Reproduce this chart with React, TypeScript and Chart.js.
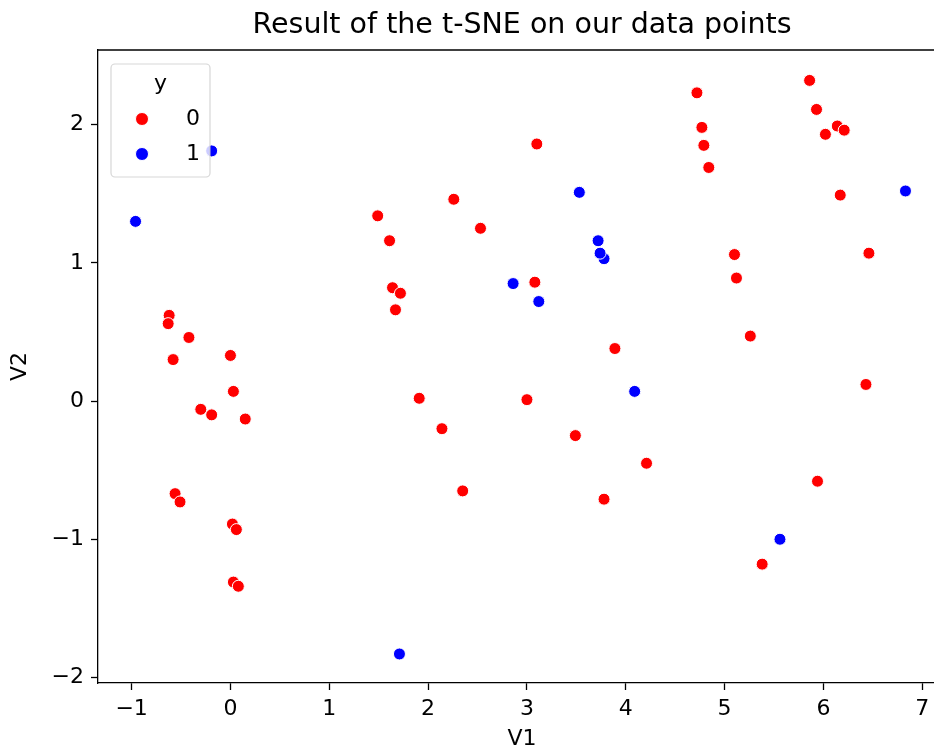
import React, { useEffect, useRef } from "react";
import { Chart, registerables } from "chart.js";

Chart.register(...registerables);

// ---- Data ----
const class0X = [
  -0.62, -0.63, -0.42, -0.58, 0.0, 0.03, -0.3, -0.19, 0.15, -0.56, -0.51, 0.02, 0.06, 0.03, 0.08,
  2.26, 1.49, 2.53, 1.61, 1.64, 1.72, 1.67, 3.08, 3.89, 1.91, 3.0, 2.14,
  5.86, 4.72, 5.93, 4.77, 6.02, 6.14, 6.21, 4.79, 4.84, 6.17, 5.1, 6.46, 5.12, 5.26,
  3.1, 6.43, 3.49, 4.21, 2.35, 3.78, 5.94, 5.38,
];
const class0Y = [
  0.62, 0.56, 0.46, 0.3, 0.33, 0.07, -0.06, -0.1, -0.13, -0.67, -0.73, -0.89, -0.93, -1.31, -1.34,
  1.46, 1.34, 1.25, 1.16, 0.82, 0.78, 0.66, 0.86, 0.38, 0.02, 0.01, -0.2,
  2.32, 2.23, 2.11, 1.98, 1.93, 1.99, 1.96, 1.85, 1.69, 1.49, 1.06, 1.07, 0.89, 0.47,
  1.86, 0.12, -0.25, -0.45, -0.65, -0.71, -0.58, -1.18,
];
const class1X = [3.53, 3.72, 3.78, 3.74, 2.86, 3.12, 4.09, 6.83, 5.56, 1.71, -0.96, -0.19];
const class1Y = [1.51, 1.16, 1.03, 1.07, 0.85, 0.72, 0.07, 1.52, -1.0, -1.83, 1.3, 1.81];

const classLabels = ["0", "1"];
const classColors = ["#ff0000", "#0000ff"];
const legendTitle = "y";
const chartTitle = "Result of the t-SNE on our data points";
const xLabel = "V1";
const yLabel = "V2";

const X_MIN = -1.34;
const X_MAX = 7.24;
const Y_MIN = -2.04;
const Y_MAX = 2.54;

const FONT = "'DejaVu Sans', sans-serif";
const TICK_SIZE = 22;

const fmt = (v: number | string) => {
  const n = Number(v);
  return n < 0 ? "\u2212" + Math.abs(n) : String(n);
};

const framePlugin = {
  id: "frameAndLegend",
  afterDraw(chart: any) {
    const { ctx, chartArea } = chart;
    ctx.save();
    // top spine (right spine lies outside the visible picture)
    ctx.strokeStyle = "#000";
    ctx.lineWidth = 1.3;
    ctx.beginPath();
    ctx.moveTo(chartArea.left, chartArea.top);
    ctx.lineTo(chartArea.right, chartArea.top);
    ctx.stroke();

    // legend box
    const lx = chartArea.left + 13;
    const ly = chartArea.top + 14;
    const lw = 99;
    const lh = 113;
    ctx.beginPath();
    if ((ctx as any).roundRect) (ctx as any).roundRect(lx, ly, lw, lh, 4);
    else ctx.rect(lx, ly, lw, lh);
    ctx.fillStyle = "rgba(255,255,255,0.8)";
    ctx.fill();
    ctx.strokeStyle = "rgba(204,204,204,0.8)";
    ctx.lineWidth = 1.2;
    ctx.stroke();

    ctx.fillStyle = "#000";
    ctx.font = `${TICK_SIZE}px ${FONT}`;
    ctx.textAlign = "center";
    ctx.textBaseline = "middle";
    ctx.fillText(legendTitle, lx + lw / 2, ly + 20);

    const rows = [ly + 55, ly + 90];
    classLabels.forEach((lab, i) => {
      ctx.beginPath();
      ctx.arc(lx + 31, rows[i], 6.5, 0, Math.PI * 2);
      ctx.fillStyle = classColors[i];
      ctx.fill();
      ctx.strokeStyle = "#fff";
      ctx.lineWidth = 1;
      ctx.stroke();
      ctx.fillStyle = "#000";
      ctx.textAlign = "left";
      ctx.fillText(lab, lx + 75, rows[i]);
    });
    ctx.restore();
  },
};

export default function App() {
  const ref = useRef<HTMLCanvasElement | null>(null);

  useEffect(() => {
    if (!ref.current) return;
    const makePts = (xs: number[], ys: number[]) => xs.map((x, i) => ({ x, y: ys[i] }));
    const chart = new Chart(ref.current, {
      type: "scatter",
      data: {
        datasets: [
          {
            label: classLabels[0],
            data: makePts(class0X, class0Y),
            pointBackgroundColor: classColors[0],
            pointBorderColor: "#ffffff",
            pointBorderWidth: 1,
            pointRadius: 6,
          },
          {
            label: classLabels[1],
            data: makePts(class1X, class1Y),
            pointBackgroundColor: classColors[1],
            pointBorderColor: "#ffffff",
            pointBorderWidth: 1,
            pointRadius: 6,
          },
        ],
      },
      options: {
        animation: false,
        responsive: false,
        devicePixelRatio: 1,
        layout: { padding: { left: 0, right: 24, top: 0, bottom: 0 } },
        plugins: {
          legend: { display: false },
          tooltip: { enabled: false },
          title: {
            display: true,
            text: chartTitle,
            fullSize: false,
            color: "#000",
            font: { family: FONT, size: 28.5, weight: "normal", lineHeight: 1.2 },
            padding: { top: 8, bottom: 7.8 },
          },
        },
        scales: {
          x: {
            type: "linear",
            min: X_MIN,
            max: X_MAX,
            afterFit: (s: any) => {
              s.height = 67;
            },
            ticks: {
              stepSize: 1,
              includeBounds: false,
              color: "#000",
              padding: 6,
              maxRotation: 0,
              font: { family: FONT, size: TICK_SIZE },
              callback: (v: any) => fmt(v),
            },
            grid: {
              display: true,
              drawOnChartArea: false,
              drawTicks: true,
              tickLength: 7,
              tickWidth: 1.3,
              tickColor: "#000",
            },
            border: { display: true, color: "#000", width: 1.3 },
            title: {
              display: true,
              text: xLabel,
              color: "#000",
              font: { family: FONT, size: TICK_SIZE, lineHeight: 1 },
              padding: { top: 0, bottom: 0 },
            },
          },
          y: {
            type: "linear",
            min: Y_MIN,
            max: Y_MAX,
            afterFit: (s: any) => {
              s.width = 98;
            },
            ticks: {
              stepSize: 1,
              includeBounds: false,
              color: "#000",
              padding: 7,
              font: { family: FONT, size: TICK_SIZE },
              callback: (v: any) => fmt(v),
            },
            grid: {
              display: true,
              drawOnChartArea: false,
              drawTicks: true,
              tickLength: 7,
              tickWidth: 1.3,
              tickColor: "#000",
            },
            border: { display: true, color: "#000", width: 1.3 },
            title: {
              display: true,
              text: yLabel,
              color: "#000",
              font: { family: FONT, size: TICK_SIZE, lineHeight: 1 },
              padding: { top: 9, bottom: 0 },
            },
          },
        },
      },
      plugins: [framePlugin],
    } as any);
    return () => chart.destroy();
  }, []);

  return (
    <div
      style={{
        position: "absolute",
        left: 0,
        top: 0,
        width: 934,
        height: 750,
        overflow: "hidden",
        background: "#fff",
      }}
    >
      <canvas ref={ref} width={970} height={750} style={{ display: "block" }} />
    </div>
  );
}
